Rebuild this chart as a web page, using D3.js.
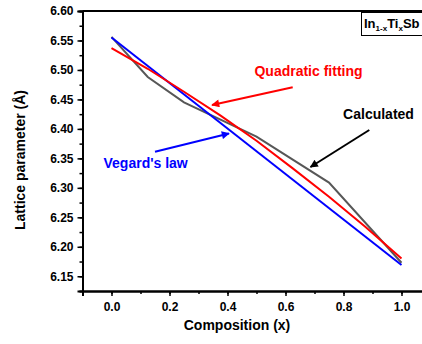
<html>
<head>
<script src="https://cdn.jsdelivr.net/npm/d3@7"></script>
<style>
body{margin:0;padding:0;background:white;}
text{font-family:"Liberation Sans",Arial,sans-serif;font-weight:bold;}
</style>
</head>
<body>
<div id="chart"></div>
<script>
// composition values x
var calcX = [0, 0.125, 0.25, 0.5, 0.75, 1.0];
var calcY = [6.556, 6.488, 6.445, 6.387, 6.309, 6.173];
var fitX = [0, 0.125, 0.25, 0.375, 0.5, 0.625, 0.75, 0.875, 1.0];
var fitY = [6.537, 6.502, 6.463, 6.423, 6.380, 6.333, 6.285, 6.234, 6.180];
var vegX = [0, 1.0];
var vegY = [6.555, 6.169];
var xTicks = [0.0, 0.2, 0.4, 0.6, 0.8, 1.0];
var yTicks = [6.15, 6.20, 6.25, 6.30, 6.35, 6.40, 6.45, 6.50, 6.55, 6.60];

var svg = d3.select("#chart").append("svg")
 .attr("width", 422)
 .attr("height", 344);

var x = d3.scaleLinear().domain([-0.1, 1.1]).range([82.5, 430.5]);
var y = d3.scaleLinear().domain([6.125, 6.60]).range([291, 11]);

// minor ticks
var xMinor = d3.range(-0.1, 1.11, 0.1).map(function(d){return +d.toFixed(2);});
var yMinor = d3.range(6.125, 6.601, 0.025).map(function(d){return +d.toFixed(3);});

svg.append("g")
 .attr("transform", "translate(0,291)")
 .call(d3.axisBottom(x).tickValues(xMinor).tickSize(3).tickFormat(""));
svg.append("g")
 .attr("transform", "translate(0,291)")
 .call(d3.axisBottom(x).tickValues(xTicks).tickSize(5).tickPadding(6).tickFormat(d3.format(".1f")));

svg.append("g")
 .attr("transform", "translate(82.5,0)")
 .call(d3.axisLeft(y).tickValues(yMinor).tickSize(3).tickFormat(""));
svg.append("g")
 .attr("transform", "translate(82.5,0)")
 .call(d3.axisLeft(y).tickValues(yTicks).tickSize(5).tickPadding(4).tickFormat(d3.format(".2f")));

svg.selectAll(".domain").attr("stroke", "black").attr("stroke-width", 2);
svg.selectAll(".tick line").attr("stroke", "black").attr("stroke-width", 1.5);
svg.selectAll(".tick text")
 .attr("font-family", "Liberation Sans, Arial, sans-serif")
 .attr("font-weight", "bold")
 .attr("font-size", "12px")
 .attr("fill", "black");

// top border
svg.append("line")
 .attr("x1", x(-0.1)).attr("x2", x(1.1))
 .attr("y1", y(6.60)).attr("y2", y(6.60))
 .attr("stroke", "black").attr("stroke-width", 2);

var line = d3.line()
 .x(function(d){ return x(d[0]); })
 .y(function(d){ return y(d[1]); });

function pairs(xs, ys){ return xs.map(function(v,i){ return [v, ys[i]]; }); }

svg.append("path")
 .attr("d", line(pairs(calcX, calcY)))
 .attr("fill", "none").attr("stroke", "#575757").attr("stroke-width", 2);
svg.append("path")
 .attr("d", line(pairs(vegX, vegY)))
 .attr("fill", "none").attr("stroke", "#0000ff").attr("stroke-width", 2);
svg.append("path")
 .attr("d", line(pairs(fitX, fitY)))
 .attr("fill", "none").attr("stroke", "#ff0000").attr("stroke-width", 2);

// arrows
var defs = svg.append("defs");
[["red","#ff0000"],["blue","#0000ff"],["black","#000000"]].forEach(function(c){
 defs.append("marker")
  .attr("id", "arr-" + c[0])
  .attr("viewBox", "0 0 10 10")
  .attr("refX", 9).attr("refY", 5)
  .attr("markerWidth", 5).attr("markerHeight", 4)
  .attr("markerUnits", "strokeWidth")
  .attr("orient", "auto")
  .append("path").attr("d", "M0,0 L10,5 L0,10 Z").attr("fill", c[1]);
});

function arrow(x1, y1, x2, y2, col, id){
 svg.append("line")
  .attr("x1", x1).attr("y1", y1).attr("x2", x2).attr("y2", y2)
  .attr("stroke", col).attr("stroke-width", 2)
  .attr("marker-end", "url(#arr-" + id + ")");
}
arrow(292.7, 87.3, 212, 105, "#ff0000", "red");
arrow(155, 151.7, 229, 133.5, "#0000ff", "blue");
arrow(369.3, 130, 310.5, 167, "#000000", "black");

svg.append("text")
 .attr("x", 308.5).attr("y", 76)
 .attr("text-anchor", "middle")
 .attr("font-size", "14px").attr("fill", "#ff0000")
 .text("Quadratic fitting");
svg.append("text")
 .attr("x", 378.5).attr("y", 119)
 .attr("text-anchor", "middle")
 .attr("font-size", "14px").attr("fill", "#000000")
 .text("Calculated");
svg.append("text")
 .attr("x", 103.5).attr("y", 168)
 .attr("font-size", "14px").attr("fill", "#0000ff")
 .text("Vegard's law");

// legend box (runs off the right edge like the original)
svg.append("rect")
 .attr("x", 361.5).attr("y", 12.5).attr("width", 80).attr("height", 23)
 .attr("fill", "white").attr("stroke", "black").attr("stroke-width", 1);
var lt = svg.append("text")
 .attr("x", 364).attr("y", 28)
 .attr("font-size", "13px").attr("fill", "black");
lt.append("tspan").text("In");
lt.append("tspan").attr("font-size", "8px").attr("dy", 3).text("1-x");
lt.append("tspan").attr("dy", -3).text("Ti");
lt.append("tspan").attr("font-size", "8px").attr("dy", 3).text("x");
lt.append("tspan").attr("dy", -3).text("Sb");

// axis titles
svg.append("text")
 .attr("x", 237).attr("y", 330)
 .attr("text-anchor", "middle")
 .attr("font-size", "14px").attr("fill", "black")
 .text("Composition (x)");
svg.append("text")
 .attr("transform", "translate(25,160) rotate(-90)")
 .attr("text-anchor", "middle")
 .attr("font-size", "14px").attr("fill", "black")
 .text("Lattice parameter (Å)");
</script>
</body>
</html>
